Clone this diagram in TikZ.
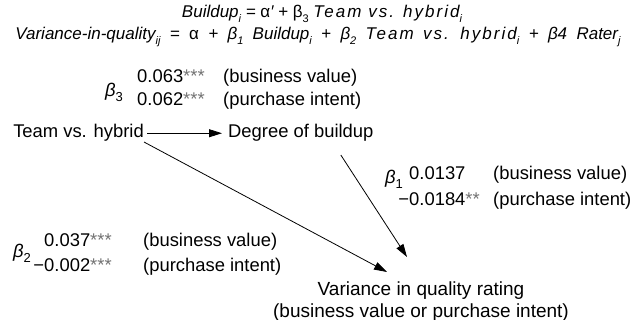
\documentclass[tikz,border=0pt]{standalone}
\usepackage{fontspec}
\setmainfont{Liberation Sans}
\usetikzlibrary{arrows.meta}
\newcommand\lsub[1]{\raisebox{-0.45ex}{\fontsize{11}{11}\selectfont #1}}
\newcommand\bsub[1]{\raisebox{-0.5ex}{\fontsize{13}{13}\selectfont #1}}
\newcommand\bsym[1]{\textit{β}\bsub{#1}}
\newcommand\strs[1]{\textcolor{black!55}{#1}}
\newcommand\tvh{{\addfontfeatures{LetterSpace=12}Team vs. hybrid}}
\begin{document}
\begin{tikzpicture}[x=1pt,y=-1pt,
  lbl/.style={inner sep=0pt, anchor=base west, font=\fontsize{18.4}{22}\selectfont},
  eqn/.style={inner sep=0pt, anchor=base, font=\fontsize{17}{20}\selectfont\itshape},
  arr/.style={-{Triangle[length=13pt,width=8pt]}, line width=0.8pt}]
\useasboundingbox (0,0) rectangle (643,320);
% equations
\node[eqn] (eq1) at (322,18) {Buildup\lsub{i} = {\upshape α}′ + {\upshape β}\lsub{\upshape 3} \tvh\lsub{i}};
\node[eqn] (eq2) at (318,40) {\spaceskip=0.55em Variance-in-quality\lsub{ij} = {\upshape α} + β\lsub{1} Buildup\lsub{i} + β\lsub{2} \tvh\lsub{i} + β4 Rater\lsub{j}};
% main nodes
\node[lbl, anchor=base east] (team) at (144,138) {Team vs. hybrid};
\node[lbl] (build) at (228,138) {Degree of buildup};
\node[inner sep=0pt, anchor=north, align=center, font=\fontsize{19}{21.5}\selectfont] (var) at (421,282)
  {Variance in quality rating\\(business value or purchase intent)};
% arrows
\draw[arr] ([xshift=3pt]team.east) -- ([xshift=-6pt]build.west);
\draw[arr] (team.south east) -- ([shift={(-34,-10)}]var.north);
\draw[arr] ([shift={(40,13)}]build.south) -- ([shift={(-14,-25)}]var.north);
% beta3
\node[lbl] (b3) at (105,97) {\bsym{3}};
\node[lbl] (b3a) at (137,83) {0.063\strs{***}};
\node[lbl] (b3b) at (137,105.5) {0.062\strs{***}};
\node[lbl] (b3c) at (223,83) {(business value)};
\node[lbl] (b3d) at (223,105.5) {(purchase intent)};
% beta1
\node[lbl] (b1) at (385,184) {\bsym{1}};
\node[lbl] (b1a) at (409,180) {0.0137};
\node[lbl] (b1b) at (409,206) {\llap{−}0.0184\strs{**}};
\node[lbl] (b1c) at (493,180) {(business value)};
\node[lbl] (b1d) at (493,206) {(purchase intent)};
% beta2
\node[lbl] (b2) at (13,258) {\bsym{2}};
\node[lbl] (b2a) at (44,246.5) {0.037\strs{***}};
\node[lbl] (b2b) at (44,271.5) {\llap{−}0.002\strs{***}};
\node[lbl] (b2c) at (143,246.5) {(business value)};
\node[lbl] (b2d) at (143,271.5) {(purchase intent)};
\end{tikzpicture}
\end{document}
